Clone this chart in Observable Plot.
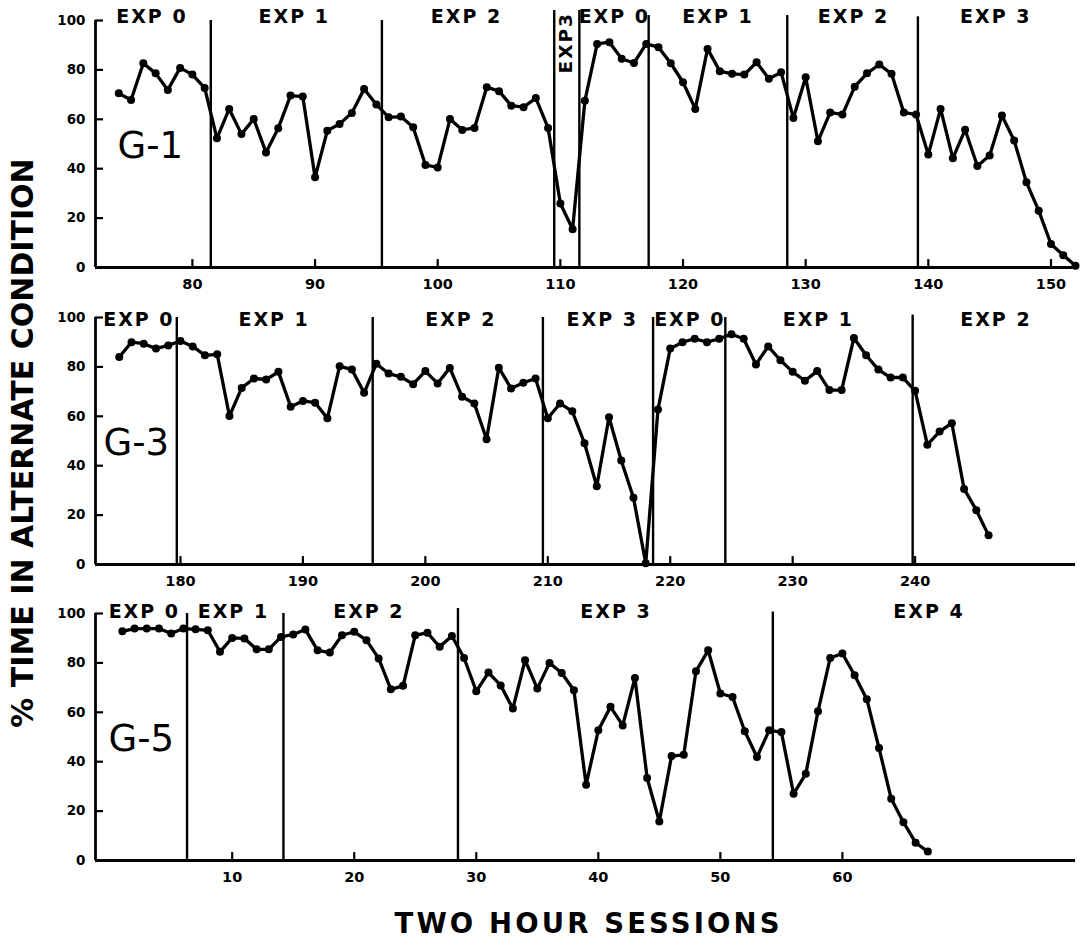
<!DOCTYPE html>
<html>
<head>
<meta charset="utf-8">
<script src="https://cdn.jsdelivr.net/npm/d3@7"></script>
<script src="https://cdn.jsdelivr.net/npm/@observablehq/plot@0.6"></script>
<style>
  body { margin: 0; background: #fff; }
  #wrap { position: relative; width: 1087px; height: 946px; overflow: hidden; background: #fff; }
  .panel { position: absolute; left: 0; }
  #titles { position: absolute; left: 0; top: 0; pointer-events: none; }
</style>
</head>
<body>
<div id="wrap">
  <div id="p1" class="panel" style="top:0px"></div>
  <div id="p2" class="panel" style="top:297px"></div>
  <div id="p3" class="panel" style="top:593px"></div>
</div>
<script>
// ---------- shared ----------
const yTicks = [0, 20, 40, 60, 80, 100];
const yTitle = "% TIME IN ALTERNATE CONDITION";
const xTitle = "TWO HOUR SESSIONS";

// ---------- G-1 ----------
const g1Name = "G-1";
const g1Sessions = [74,75,76,77,78,79,80,81,82,83,84,85,86,87,88,89,90,91,92,93,94,95,96,97,98,99,100,101,102,103,104,105,106,107,108,109,110,111,112,113,114,115,116,117,118,119,120,121,122,123,124,125,126,127,128,129,130,131,132,133,134,135,136,137,138,139,140,141,142,143,144,145,146,147,148,149,150,151,152];
const g1Values = [70.5,67.8,82.7,78.6,71.9,80.8,78.1,72.7,52.3,64.2,54.0,60.1,46.6,56.4,69.6,69.2,36.5,55.4,58.1,62.6,72.3,66.0,60.8,61.1,56.8,41.5,40.5,60.1,55.7,56.5,73.0,71.4,65.5,64.9,68.6,56.5,25.9,15.5,67.5,90.5,91.2,84.5,82.8,90.5,89.2,82.7,75.0,64.2,88.5,79.5,78.4,78.1,83.1,76.4,79.0,60.5,77.0,51.1,62.8,61.9,73.2,78.6,82.2,78.4,62.8,61.9,45.7,64.2,44.2,55.8,41.1,45.3,61.5,51.4,34.5,23.0,9.5,5.0,0.7];
const g1Domain = [72.1, 152.0];
const g1XTicks = [80, 90, 100, 110, 120, 130, 140, 150];
const g1Bounds = [81.5, 95.45, 109.5, 111.55, 117.2, 128.5, 139.15];
const g1BoundTops = [100, 100, 104, 104, 102, 102, 101.5];
const g1Labels = ["EXP 0", "EXP 1", "EXP 2", "EXP 0", "EXP 1", "EXP 2", "EXP 3"];
const g1LabelX = [76.7, 88.3, 102.35, 114.4, 122.85, 133.9, 145.5];
const g1LabelY = 101.5;
const g1RotLabel = ["EXP3"];
const g1RotX = [110.5];
const g1RotY = [91];

// ---------- G-3 ----------
const g3Name = "G-3";
const g3Sessions = [175,176,177,178,179,180,181,182,183,184,185,186,187,188,189,190,191,192,193,194,195,196,197,198,199,200,201,202,203,204,205,206,207,208,209,210,211,212,213,214,215,216,217,218,219,220,221,222,223,224,225,226,227,228,229,230,231,232,233,234,235,236,237,238,239,240,241,242,243,244,245,246];
const g3Values = [84.0,90.0,89.4,87.4,88.7,90.5,88.3,84.7,85.1,60.1,71.5,75.3,74.9,78.0,63.9,66.2,65.5,59.2,80.3,78.9,69.5,81.3,77.3,76.0,73.0,78.3,73.3,79.6,67.9,65.2,50.7,79.7,71.3,73.6,75.3,59.2,65.2,62.0,49.1,31.7,59.6,42.1,27.0,0.5,62.8,87.4,90.0,91.4,90.0,91.4,93.2,91.4,81.0,88.3,82.7,78.0,74.4,78.3,70.6,70.6,91.7,84.7,78.9,75.7,75.7,70.3,48.5,53.8,57.2,30.6,22.0,11.8];
const g3Domain = [173.06, 253.1];
const g3XTicks = [180, 190, 200, 210, 220, 230, 240];
const g3Bounds = [179.7, 195.7, 209.6, 218.6, 224.5, 239.8];
const g3BoundTops = [100, 100, 100, 100, 100, 101];
const g3Labels = ["EXP 0", "EXP 1", "EXP 2", "EXP 3", "EXP 0", "EXP 1", "EXP 2"];
const g3LabelX = [176.6, 187.65, 202.9, 214.45, 221.6, 232.1, 246.6];
const g3LabelY = 99.2;

// ---------- G-5 ----------
const g5Name = "G-5";
const g5Sessions = [1,2,3,4,5,6,7,8,9,10,11,12,13,14,15,16,17,18,19,20,21,22,23,24,25,26,27,28,29,30,31,32,33,34,35,36,37,38,39,40,41,42,43,44,45,46,47,48,49,50,51,52,53,54,55,56,57,58,59,60,61,62,63,64,65,66,67];
const g5Values = [92.8,93.9,93.9,93.9,91.9,93.9,93.6,93.2,84.5,90.1,89.9,85.5,85.5,90.5,91.5,93.5,85.1,84.2,91.2,92.6,89.2,81.8,69.3,70.7,91.2,92.2,86.5,90.9,82.0,68.5,76.1,70.9,61.5,81.1,69.6,80.0,75.9,68.9,30.7,52.7,62.2,54.7,73.9,33.4,15.8,42.3,42.8,76.6,85.1,67.6,66.2,52.3,41.9,52.7,52.0,27.0,35.1,60.4,82.0,83.8,75.0,65.3,45.5,25.0,15.5,7.2,3.6];
const g5Domain = [-1.2, 79.1];
const g5XTicks = [10, 20, 30, 40, 50, 60];
const g5Bounds = [6.3, 14.2, 28.5, 54.3];
const g5BoundTops = [100, 100, 102, 100.6];
const g5Labels = ["EXP 0", "EXP 1", "EXP 2", "EXP 3", "EXP 4"];
const g5LabelX = [2.8, 10.1, 21.2, 41.45, 67.1];
const g5LabelY = 100.5;

const FONT = "DejaVu Sans";
const INK = "#000";

function makePanel(c) {
  const pts = c.sessions.map((s, i) => ({s, v: c.values[i]}));
  const bnd = c.bounds.map((b, i) => ({b, top: c.boundTops[i]}));
  const lab = c.labels.map((t, i) => ({t, x: c.labelX[i]}));
  const rot = (c.rotLabel || []).map((t, i) => ({t, x: c.rotX[i], y: c.rotY[i]}));
  const plotW = 1087 - 95 - 12;
  const svg = Plot.plot({
    width: 1087, height: 297,
    marginTop: 20, marginBottom: 30, marginLeft: 95, marginRight: 12,
    x: {domain: c.domain, axis: null},
    y: {domain: [0, 100], axis: null},
    style: {fontFamily: FONT, background: "transparent", overflow: "visible", color: INK},
    marks: [
      // boundaries between experiments
      Plot.ruleX(bnd, {x: "b", y1: 0, y2: "top", stroke: INK, strokeWidth: 2.4}),
      // axes
      Plot.ruleY([0], {stroke: INK, strokeWidth: 2.8}),
      Plot.ruleX([c.domain[0]], {y1: 0, y2: 100, stroke: INK, strokeWidth: 2.8}),
      Plot.ruleX(c.xTicks, {x: d => d, y1: 0, y2: 3.2, stroke: INK, strokeWidth: 2.2}),
      Plot.tickY(yTicks, {y: d => d, insetRight: plotW - 8, stroke: INK, strokeWidth: 2.2}),
      Plot.text(c.xTicks, {x: d => d, y: 0, text: d => String(d), dy: 11, lineAnchor: "top",
        fontSize: 14.5, fontWeight: "bold", fill: INK}),
      Plot.text(yTicks, {frameAnchor: "left", y: d => d, text: d => String(d), dx: -10,
        textAnchor: "end", fontSize: 13.5, fontWeight: "bold", fill: INK}),
      // data
      Plot.line(pts, {x: "s", y: "v", stroke: INK, strokeWidth: 3.3, strokeLinejoin: "round"}),
      Plot.dot(pts, {x: "s", y: "v", r: 4, fill: INK, stroke: "none"}),
      // labels
      Plot.text(lab, {x: "x", y: c.labelY, text: "t", fontSize: 19, fontWeight: "bold", fill: INK}),
      Plot.text(rot, {x: "x", y: "y", text: "t", rotate: -90, fontSize: 18.5, fontWeight: "bold", fill: INK}),
      Plot.text([c.name], {frameAnchor: "left", y: 49, text: d => d, dx: c.nameDx, textAnchor: "start",
        fontSize: 37, fontWeight: "normal", fill: INK})
    ]
  });
  d3.select(svg).selectAll("text")
    .filter(function () { return this.textContent.startsWith("EXP"); })
    .attr("letter-spacing", 2);
  return svg;
}

document.getElementById("p1").appendChild(makePanel({
  name: g1Name, nameDx: 22, sessions: g1Sessions, values: g1Values, domain: g1Domain,
  xTicks: g1XTicks, bounds: g1Bounds, boundTops: g1BoundTops, labels: g1Labels,
  labelX: g1LabelX, labelY: g1LabelY, rotLabel: g1RotLabel, rotX: g1RotX, rotY: g1RotY
}));
document.getElementById("p2").appendChild(makePanel({
  name: g3Name, nameDx: 8, sessions: g3Sessions, values: g3Values, domain: g3Domain,
  xTicks: g3XTicks, bounds: g3Bounds, boundTops: g3BoundTops, labels: g3Labels,
  labelX: g3LabelX, labelY: g3LabelY
}));
document.getElementById("p3").appendChild(makePanel({
  name: g5Name, nameDx: 13, sessions: g5Sessions, values: g5Values, domain: g5Domain,
  xTicks: g5XTicks, bounds: g5Bounds, boundTops: g5BoundTops, labels: g5Labels,
  labelX: g5LabelX, labelY: g5LabelY
}));

// axis titles
const t = d3.select("#wrap").append("svg").attr("id", "titles")
  .attr("width", 1087).attr("height", 946);
t.append("text")
  .attr("transform", "translate(33,443) rotate(-90)")
  .attr("text-anchor", "middle")
  .attr("font-family", FONT).attr("font-weight", "bold").attr("font-size", 30)
  .attr("fill", INK)
  .text(yTitle);
t.append("text")
  .attr("x", 587).attr("y", 933)
  .attr("text-anchor", "middle")
  .attr("font-family", FONT).attr("font-weight", "bold").attr("font-size", 27.5)
  .attr("textLength", 385).attr("lengthAdjust", "spacing")
  .attr("fill", INK)
  .text(xTitle);
</script>
</body>
</html>
